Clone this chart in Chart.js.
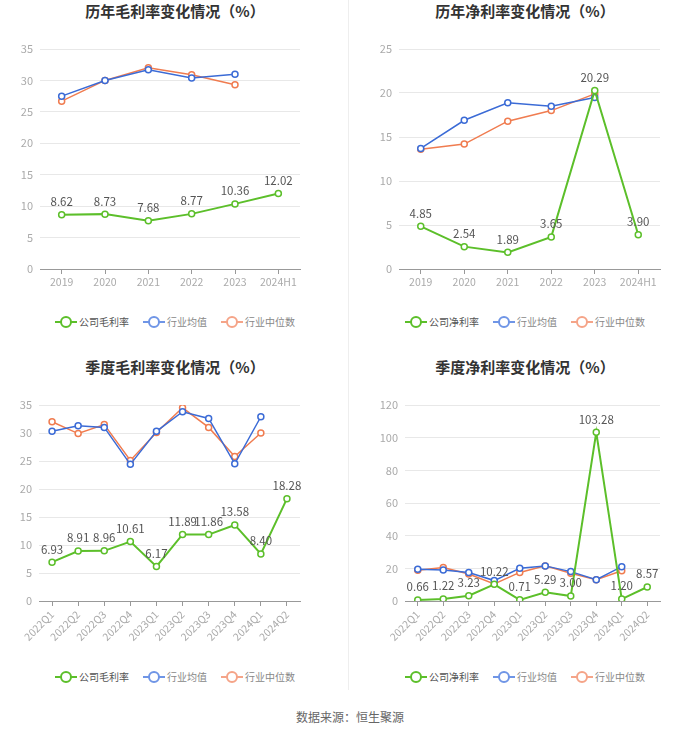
<!DOCTYPE html>
<html>
<head>
<meta charset="utf-8">
<script src="https://cdn.jsdelivr.net/npm/chart.js@4/dist/chart.umd.min.js"></script>
<style>
  body { margin: 0; background: #fff; font-family: "Noto Sans CJK SC", "Noto Sans", sans-serif; }
  #page { position: relative; width: 700px; height: 734px; overflow: hidden; }
  .title { position: absolute; width: 350px; text-align: center; font-size: 15px; font-weight: bold; color: #333; line-height: 20px; }
  .legend { position: absolute; width: 350px; text-align: center; font-size: 10px; line-height: 16px; white-space: nowrap; }
  .legend span.item { display: inline-block; margin: 0 7px; color: #888; }
  .legend span.item:first-child { color: #555; }
  .icon { display: inline-block; position: relative; width: 22px; height: 12px; vertical-align: -2px; margin-right: 2px; }
  .icon::before { content: ""; position: absolute; left: 0; right: 0; top: 5px; border-top: 2px solid currentColor; }
  .icon::after { content: ""; position: absolute; left: 5px; top: 0; width: 8px; height: 8px; border: 2px solid currentColor; border-radius: 50%; background: #fff; }
  canvas { position: absolute; }
  .divider { position: absolute; left: 348px; top: 0; width: 1px; height: 690px; background: #eee; }
  .source { position: absolute; left: 0; top: 708px; width: 700px; text-align: center; font-size: 12px; color: #666; }
</style>
</head>
<body>
<div id="page">
  <div class="divider"></div>

  <div class="title" style="left:0;top:1px">历年毛利率变化情况（%）</div>
  <div class="title" style="left:350px;top:1px">历年净利率变化情况（%）</div>
  <div class="title" style="left:0;top:357px">季度毛利率变化情况（%）</div>
  <div class="title" style="left:350px;top:357px">季度净利率变化情况（%）</div>

  <canvas id="c1" width="350" height="270" style="left:0;top:30px"></canvas>
  <canvas id="c2" width="350" height="270" style="left:350px;top:30px"></canvas>
  <canvas id="c3" width="350" height="280" style="left:0;top:380px"></canvas>
  <canvas id="c4" width="350" height="280" style="left:350px;top:380px"></canvas>

  <div class="legend" style="left:0;top:314px">
    <span class="item"><i class="icon" style="color:#5cbf2a"></i>公司毛利率</span><span class="item"><i class="icon" style="color:#6f95e6"></i>行业均值</span><span class="item"><i class="icon" style="color:#f5a488"></i>行业中位数</span>
  </div>
  <div class="legend" style="left:350px;top:314px">
    <span class="item"><i class="icon" style="color:#5cbf2a"></i>公司净利率</span><span class="item"><i class="icon" style="color:#6f95e6"></i>行业均值</span><span class="item"><i class="icon" style="color:#f5a488"></i>行业中位数</span>
  </div>
  <div class="legend" style="left:0;top:669px">
    <span class="item"><i class="icon" style="color:#5cbf2a"></i>公司毛利率</span><span class="item"><i class="icon" style="color:#6f95e6"></i>行业均值</span><span class="item"><i class="icon" style="color:#f5a488"></i>行业中位数</span>
  </div>
  <div class="legend" style="left:350px;top:669px">
    <span class="item"><i class="icon" style="color:#5cbf2a"></i>公司净利率</span><span class="item"><i class="icon" style="color:#6f95e6"></i>行业均值</span><span class="item"><i class="icon" style="color:#f5a488"></i>行业中位数</span>
  </div>

  <div class="source">数据来源：恒生聚源</div>
</div>

<script>
'use strict'

// yearly
const years = ['2019', '2020', '2021', '2022', '2023', '2024H1'];
const grossCompany = [8.62, 8.73, 7.68, 8.77, 10.36, 12.02];
const grossAvg = [27.5, 30.0, 31.7, 30.4, 31.0, null];
const grossMedian = [26.7, 30.0, 32.0, 30.9, 29.3, null];

const netCompany = [4.85, 2.54, 1.89, 3.65, 20.29, 3.90];
const netAvg = [13.7, 16.9, 18.9, 18.5, 19.5, null];
const netMedian = [13.6, 14.2, 16.8, 18.0, 19.9, null];

// quarterly
const quarters = ['2022Q1', '2022Q2', '2022Q3', '2022Q4', '2023Q1', '2023Q2', '2023Q3', '2023Q4', '2024Q1', '2024Q2'];
const qGrossCompany = [6.93, 8.91, 8.96, 10.61, 6.17, 11.89, 11.86, 13.58, 8.40, 18.28];
const qGrossAvg = [30.3, 31.3, 31.0, 24.4, 30.3, 33.8, 32.6, 24.5, 32.9, null];
const qGrossMedian = [32.0, 29.9, 31.5, 25.1, 30.1, 34.5, 31.0, 25.8, 30.0, null];

const qNetCompany = [0.66, 1.22, 3.23, 10.22, 0.71, 5.29, 3.00, 103.28, 1.20, 8.57];
const qNetAvg = [19.5, 19.0, 17.5, 12.5, 20.0, 21.5, 18.0, 13.0, 21.0, null];
const qNetMedian = [18.8, 20.5, 16.5, 10.5, 17.5, 21.5, 17.0, 13.0, 18.5, null];

const FONT = '"Noto Sans CJK SC", "Noto Sans", sans-serif';
const GREEN = '#5cbf2a';
const BLUE = '#3b6bd6';
const ORANGE = '#f07c50';

// numbers above the company line
const valueLabels = {
    id: 'valueLabels',
    afterDatasetsDraw(chart) {
        const ctx = chart.ctx;
        const meta = chart.getDatasetMeta(0);
        const data = chart.data.datasets[0].data;
        ctx.save();
        ctx.font = '11.5px ' + FONT;
        ctx.fillStyle = '#555';
        ctx.textAlign = 'center';
        ctx.textBaseline = 'middle';
        meta.data.forEach((pt, i) => {
            if (data[i] == null) return;
            ctx.fillText(data[i].toFixed(2), pt.x, pt.y - 13);
        });
        ctx.restore();
    }
};

function line(label, data, color, width) {
    return {
        label: label,
        data: data,
        borderColor: color,
        backgroundColor: '#fff',
        borderWidth: width,
        pointRadius: 3,
        pointBorderWidth: 1.5,
        pointBackgroundColor: '#fff',
        pointBorderColor: color,
        tension: 0
    };
}

function makeChart(id, labels, company, avg, median, companyName, opt) {
    return new Chart(document.getElementById(id), {
        type: 'line',
        data: {
            labels: labels,
            datasets: [
                line(companyName, company, GREEN, 2),
                line('行业均值', avg, BLUE, 1.5),
                line('行业中位数', median, ORANGE, 1.5)
            ]
        },
        options: {
            responsive: false,
            animation: false,
            layout: { padding: { top: opt.top, right: opt.right, bottom: 0, left: 0 } },
            plugins: { legend: { display: false }, title: { display: false }, tooltip: { enabled: false } },
            scales: {
                x: {
                    offset: true,
                    afterFit: (s) => { s.height = opt.xHeight; },
                    grid: { offset: false, drawOnChartArea: false, drawTicks: true, tickLength: 5, color: '#999' },
                    border: { display: true, color: '#999' },
                    ticks: {
                        color: '#aaa',
                        font: { size: 10.5, family: FONT },
                        padding: 2,
                        autoSkip: false,
                        minRotation: opt.rotate,
                        maxRotation: opt.rotate
                    }
                },
                y: {
                    min: 0,
                    max: opt.max,
                    afterFit: (s) => { s.width = opt.left; },
                    grid: { color: '#e8e8e8', drawTicks: false },
                    border: { display: false },
                    ticks: {
                        stepSize: opt.step,
                        color: '#aaa',
                        font: { size: 11, family: FONT },
                        padding: 7
                    }
                }
            }
        },
        plugins: [valueLabels]
    });
}

makeChart('c1', years, grossCompany, grossAvg, grossMedian, '公司毛利率',
    { top: 19, right: 50, left: 40, xHeight: 31, max: 35, step: 5, rotate: 0 });
makeChart('c2', years, netCompany, netAvg, netMedian, '公司净利率',
    { top: 19, right: 40, left: 49, xHeight: 31, max: 25, step: 5, rotate: 0 });
makeChart('c3', quarters, qGrossCompany, qGrossAvg, qGrossMedian, '公司毛利率',
    { top: 25, right: 50, left: 39, xHeight: 59, max: 35, step: 5, rotate: 45 });
makeChart('c4', quarters, qNetCompany, qNetAvg, qNetMedian, '公司净利率',
    { top: 25, right: 40, left: 55, xHeight: 59, max: 120, step: 20, rotate: 45 });
</script>
</body>
</html>
